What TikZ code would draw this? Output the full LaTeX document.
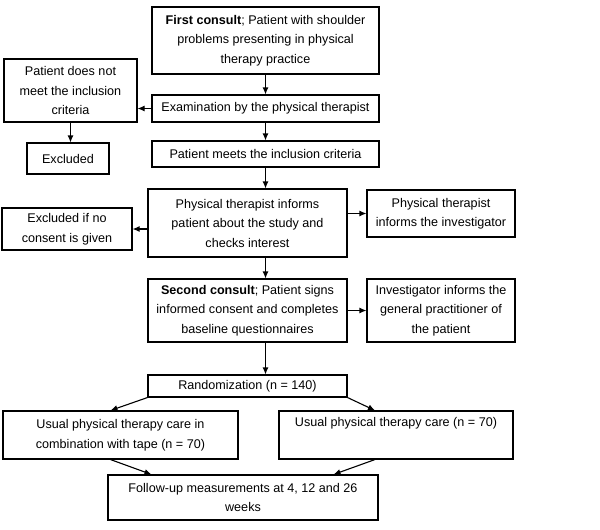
\documentclass[tikz,border=0pt]{standalone}
\usepackage{fontspec}
\setmainfont{Liberation Sans}
\usetikzlibrary{arrows.meta, calc, positioning}

\begin{document}
\begin{tikzpicture}
			[x=1pt, y=-1pt,
			 box/.style={draw, line width=1.1pt, align=center, inner sep=0pt, font={\fontsize{12.6}{19.5}\selectfont}},
			 flow/.style={-{Latex[length=7pt, width=6pt]}, line width=1.1pt}]
			\useasboundingbox (0,0) rectangle (600,530);
			
			% main column
			\node[box, minimum width=227pt, minimum height=67pt] (first) at (265.5,40.5) {\textbf{First consult}; Patient with shoulder\\problems presenting in physical\\therapy practice};
			\node[box, minimum width=227pt, minimum height=27pt] (exam) at (265.5,108.5) {Examination by the physical therapist};
			\node[box, minimum width=227pt, minimum height=26pt] (meets) at (265.5,154) {Patient meets the inclusion criteria};
			\node[box, minimum width=199pt, minimum height=68pt] (inform) at (247.5,223) {Physical therapist informs\\patient about the study and\\checks interest};
			\node[box, minimum width=199pt, minimum height=63pt] (second) at (247.5,310.5) {\textbf{Second consult}; Patient signs\\informed consent and completes\\baseline questionnaires};
			\node[box, minimum width=199pt, minimum height=22pt] (random) at (247.5,386) {Randomization (n = 140)};
			
			% side boxes
			\node[box, minimum width=133pt, minimum height=63pt] (notmeet) at (70.5,90.5) {Patient does not\\meet the inclusion\\criteria};
			\node[box, minimum width=82pt, minimum height=31pt] (excl) at (68,158.5) {Excluded};
			\node[box, minimum width=130pt, minimum height=42pt] (noconsent) at (67,229) {Excluded if no\\consent is given};
			\node[box, minimum width=148pt, minimum height=47pt] (invest) at (441,213.5) {Physical therapist\\informs the investigator};
			\node[box, minimum width=148pt, minimum height=63pt] (gp) at (441,310.5) {Investigator informs the\\general practitioner of\\the patient};
			
			% groups and follow-up
			\node[box, minimum width=235pt, minimum height=48pt] (tape) at (120.5,435) {Usual physical therapy care in\\combination with tape (n = 70)};
			\node[box, minimum width=234pt, minimum height=48pt] (usual) at (396,435) {Usual physical therapy care (n = 70)\\\strut};
			\node[box, minimum width=270pt, minimum height=45pt] (follow) at (243,497.5) {Follow-up measurements at 4, 12 and 26\\weeks};
			
			\draw[flow] (first.south) -- (exam.north);
			\draw[flow] (exam.south) -- (meets.north);
			\draw[flow] (meets.south) -- (meets.south |- inform.north);
			\draw[flow] (meets.south |- inform.south) -- (meets.south |- second.north);
			\draw[flow] (meets.south |- second.south) -- (meets.south |- random.north);
			
			\draw[flow] (exam.west) -- (exam.west -| notmeet.east);
			\draw[flow] (notmeet.south) -- (notmeet.south |- excl.north);
			\draw[flow] (noconsent.east -| inform.west) -- (noconsent.east);
			\draw[flow] (invest.west -| inform.east) -- (invest.west);
			\draw[flow] (second.east) -- (gp.west);
			
			\draw[flow] (random.south west) -- ([xshift=-10pt]tape.north);
			\draw[flow] (random.south east) -- ([xshift=-21pt]usual.north);
			\draw[flow] ([xshift=-10pt]tape.south) -- ([xshift=44pt]follow.north west);
			\draw[flow] ([xshift=-21pt]usual.south) -- ([xshift=-45pt]follow.north east);
			\end{tikzpicture}
\end{document}
